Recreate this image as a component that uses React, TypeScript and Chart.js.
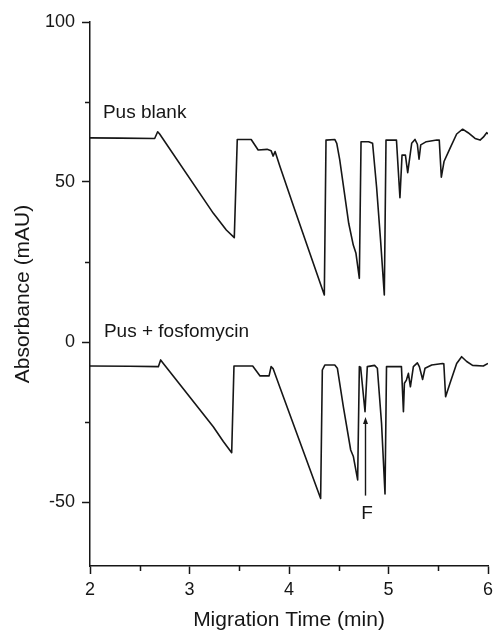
import React, { useEffect, useRef } from "react";
import { Chart, registerables } from "chart.js";

Chart.register(...registerables);

// ---- data ----
const blankTime = [
  2.0, 2.3, 2.65, 2.68, 2.7, 3.24, 3.37, 3.45, 3.48, 3.62, 3.69, 3.78, 3.82, 3.84, 3.86, 3.91, 4.05,
  4.355, 4.372, 4.46, 4.48, 4.51, 4.6, 4.646, 4.673, 4.707, 4.724, 4.8, 4.84, 4.88, 4.92, 4.958,
  4.975, 5.08, 5.115, 5.136, 5.17, 5.193, 5.233, 5.266, 5.29, 5.307, 5.324, 5.38, 5.485, 5.51,
  5.531, 5.558, 5.618, 5.685, 5.745, 5.8, 5.87, 5.92, 5.953, 5.987, 6.0,
];
const blankValue = [
  63.8, 63.7, 63.6, 65.7, 65.0, 40.2, 35.0, 32.6, 63.3, 63.3, 60.0, 60.2, 59.8, 58.1, 59.5, 54.8, 42.0,
  14.7, 63.1, 63.3, 62.1, 56.9, 37.1, 30.3, 27.7, 19.9, 62.6, 62.6, 62.1, 48.5, 31.9, 14.7,
  63.1, 63.1, 45.1, 58.4, 58.4, 52.9, 62.1, 63.3, 61.8, 57.1, 61.6, 62.6, 63.1, 63.1,
  51.5, 56.4, 60.5, 65.0, 66.5, 65.4, 63.6, 63.1, 64.0, 65.4, 65.0,
];

const fosfoTime = [
  2.0, 2.4, 2.687, 2.71, 2.737, 3.239, 3.34, 3.424, 3.447, 3.635, 3.709, 3.8, 3.82, 3.84, 3.91,
  4.318, 4.335, 4.36, 4.46, 4.486, 4.546, 4.62, 4.647, 4.69, 4.707, 4.72, 4.764, 4.787, 4.86,
  4.888, 4.93, 4.965, 4.98, 5.13, 5.15, 5.16, 5.18, 5.2, 5.22, 5.25, 5.29, 5.31, 5.343, 5.367,
  5.434, 5.543, 5.556, 5.574, 5.618, 5.685, 5.735, 5.786, 5.845, 5.953, 6.0,
];
const fosfoValue = [
  -7.5, -7.6, -7.7, -5.6, -6.7, -26.5, -31.1, -34.6, -7.5, -7.5, -10.6, -10.6, -7.7, -8.3, -14.3,
  -48.9, -8.75, -7.2, -7.2, -8.2, -20.2, -33.75, -35.8, -43.1, -7.7, -7.9, -21.8, -7.7, -7.3,
  -8.2, -25.4, -47.5, -7.7, -7.7, -21.8, -12.9, -11.9, -9.8, -14.0, -7.7, -6.5, -7.7, -11.7, -8.2,
  -7.2, -6.7, -6.8, -17.1, -12.9, -6.7, -4.6, -6.1, -7.3, -7.5, -6.7,
];

const xMajorTicks = [2, 3, 4, 5, 6];
const xMinorTicks = [2.5, 3.5, 4.5, 5.5];
const yMajorTicks = [-50, 0, 50, 100];
const yMinorTicks = [-25, 25, 75];

const traceLabels = ["Pus blank", "Pus + fosfomycin"];
const traceLabelTime = [2.13, 2.14];
const traceLabelValue = [71.7, 3.3];

const peakLabel = "F";
const peakTime = 4.764;
const arrowFrom = -48;
const arrowTo = -23.4;
const peakLabelValue = -53.6;

const FONT = "'Liberation Sans', Arial, Helvetica, sans-serif";
const INK = "#161616";

const toPoints = (t: number[], v: number[]) => t.map((x, i) => ({ x, y: v[i] }));

const extrasPlugin = {
  id: "extras",
  afterDraw(chart: any) {
    const ctx = chart.ctx;
    const xs = chart.scales.x;
    const ys = chart.scales.y;
    const area = chart.chartArea;
    ctx.save();
    ctx.strokeStyle = INK;
    ctx.lineWidth = 1.5;
    // minor ticks
    ctx.beginPath();
    xMinorTicks.forEach((t) => {
      const px = Math.round(xs.getPixelForValue(t)) + 0.5;
      ctx.moveTo(px, area.bottom);
      ctx.lineTo(px, area.bottom + 5);
    });
    yMinorTicks.forEach((v) => {
      const py = Math.round(ys.getPixelForValue(v)) + 0.5;
      ctx.moveTo(area.left, py);
      ctx.lineTo(area.left - 5, py);
    });
    ctx.stroke();

    // trace labels
    ctx.fillStyle = INK;
    ctx.font = `19px ${FONT}`;
    ctx.textAlign = "left";
    ctx.textBaseline = "middle";
    traceLabels.forEach((s, i) => {
      ctx.fillText(s, xs.getPixelForValue(traceLabelTime[i]), ys.getPixelForValue(traceLabelValue[i]));
    });

    // arrow to F peak
    const ax = Math.round(xs.getPixelForValue(peakTime)) + 0.5;
    const y0 = ys.getPixelForValue(arrowFrom);
    const y1 = ys.getPixelForValue(arrowTo);
    ctx.lineWidth = 1.4;
    ctx.beginPath();
    ctx.moveTo(ax, y0);
    ctx.lineTo(ax, y1 + 5);
    ctx.stroke();
    ctx.beginPath();
    ctx.moveTo(ax, y1);
    ctx.lineTo(ax - 2.5, y1 + 7);
    ctx.lineTo(ax + 2.5, y1 + 7);
    ctx.closePath();
    ctx.fill();

    ctx.textAlign = "center";
    ctx.font = `19px ${FONT}`;
    ctx.fillText(peakLabel, xs.getPixelForValue(peakTime) + 2, ys.getPixelForValue(peakLabelValue));
    ctx.restore();
  },
};

export default function App() {
  const ref = useRef<HTMLCanvasElement | null>(null);

  useEffect(() => {
    if (!ref.current) return;
    const chart = new Chart(ref.current, {
      type: "line",
      data: {
        datasets: [
          {
            label: traceLabels[0],
            data: toPoints(blankTime, blankValue),
            borderColor: INK,
            borderWidth: 1.6,
            pointRadius: 0,
            tension: 0,
            borderJoinStyle: "round",
            fill: false,
          },
          {
            label: traceLabels[1],
            data: toPoints(fosfoTime, fosfoValue),
            borderColor: INK,
            borderWidth: 1.6,
            pointRadius: 0,
            tension: 0,
            borderJoinStyle: "round",
            fill: false,
          },
        ],
      },
      options: {
        animation: false,
        responsive: false,
        devicePixelRatio: 1,
        layout: { padding: { top: 22, right: 6, left: 0, bottom: 0 } },
        plugins: { legend: { display: false }, tooltip: { enabled: false } },
        scales: {
          x: {
            type: "linear",
            min: 2,
            max: 6,
            afterBuildTicks: (s: any) => {
              s.ticks = xMajorTicks.map((v) => ({ value: v }));
            },
            afterFit: (s: any) => {
              s.height = 66;
              s.paddingLeft = 0;
              s.paddingRight = 0;
            },
            ticks: {
              font: { size: 18, family: FONT },
              color: INK,
              padding: 5,
              maxRotation: 0,
              autoSkip: false,
            },
            grid: {
              display: true,
              drawOnChartArea: false,
              drawTicks: true,
              tickLength: 8,
              tickColor: INK,
              tickWidth: 1.5,
            },
            border: { display: true, color: INK, width: 1.5 },
            title: {
              display: true,
              text: "Migration Time (min)",
              color: INK,
              font: { size: 21, family: FONT, lineHeight: 1 },
              padding: { top: 0, bottom: 1 },
            },
          },
          y: {
            type: "linear",
            min: -70,
            max: 100,
            afterBuildTicks: (s: any) => {
              s.ticks = yMajorTicks.map((v) => ({ value: v }));
            },
            afterFit: (s: any) => {
              s.width = 90;
              s.paddingTop = 0;
              s.paddingBottom = 0;
            },
            ticks: {
              font: { size: 18, family: FONT },
              color: INK,
              padding: 7,
              autoSkip: false,
            },
            grid: {
              display: true,
              drawOnChartArea: false,
              drawTicks: true,
              tickLength: 8,
              tickColor: INK,
              tickWidth: 1.5,
            },
            border: { display: true, color: INK, width: 1.5 },
            title: {
              display: true,
              text: "Absorbance (mAU)",
              color: INK,
              font: { size: 21, family: FONT, lineHeight: 1 },
              padding: { top: 12.5, bottom: 0 },
            },
          },
        },
      },
      plugins: [extrasPlugin],
    } as any);
    return () => chart.destroy();
  }, []);

  return (
    <div style={{ position: "absolute", left: 0, top: 0, width: 494, height: 632, background: "#fff" }}>
      <canvas ref={ref} width={494} height={632} style={{ width: 494, height: 632, display: "block" }} />
    </div>
  );
}
